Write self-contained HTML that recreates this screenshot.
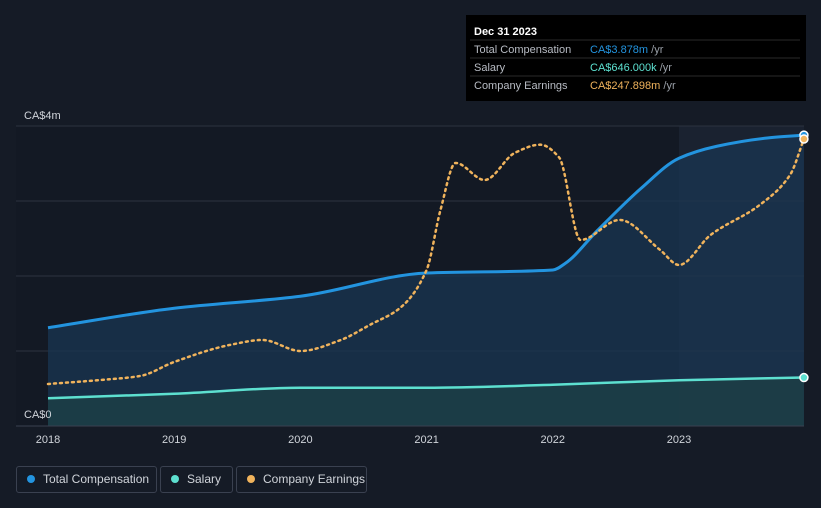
<!DOCTYPE html>
<html><head><meta charset="utf-8">
<style>
body{margin:0;background:#151b26;width:821px;height:508px;overflow:hidden;font-family:"Liberation Sans",sans-serif;}
svg{position:absolute;left:0;top:0}
.leg{position:absolute;top:466px;height:27px;border:1px solid #3a4150;border-radius:3px;color:#d0d4da;font-size:12px;line-height:25px;padding:0 0 0 10px;box-sizing:border-box;white-space:nowrap;overflow:hidden}
.dot{display:inline-block;width:8px;height:8px;border-radius:50%;margin-right:8px;vertical-align:0}
</style></head><body>
<svg id="chart" width="821" height="508"></svg>
<div class="leg" style="left:16px;width:141px"><span class="dot" style="background:#2394df"></span>Total Compensation</div>
<div class="leg" style="left:160px;width:73px"><span class="dot" style="background:#5de0d0"></span>Salary</div>
<div class="leg" style="left:236px;width:131px"><span class="dot" style="background:#f0b35c"></span>Company Earnings</div>
<script>
const compDates=[2018,2019,2020,2021,2022,2022.1,2022.35,2022.7,2023,2023.3,2023.7,2023.99];
const compValues=[1.31,1.57,1.73,2.04,2.08,2.17,2.6,3.17,3.57,3.73,3.84,3.878];
const salDates=[2018,2019,2020,2021,2022,2023,2023.99];
const salValues=[0.37,0.43,0.51,0.51,0.55,0.61,0.646];
const earnDates=[2018,2018.41,2018.73,2019,2019.44,2019.7,2020,2020.32,2020.55,2020.79,2021,2021.11,2021.23,2021.46,2021.7,2021.9,2022.05,2022.22,2022.53,2022.85,2023,2023.25,2023.64,2023.88,2023.99];
const earnValues=[36.3,39.7,43.2,55.3,70,74.3,64.8,74.3,87.3,102,134.8,186.6,227.2,212.5,236,243,232,160.7,178,152.1,139.1,165,191,216.9,247.9];
const yearTicks=[2018,2019,2020,2021,2022,2023];
const yTicks=[0,1,2,3,4];
const NS='http://www.w3.org/2000/svg';
const svg=document.getElementById('chart');
const X=d=>48+(d-2018)*126.2;
const Y=v=>426-v*75;
const EY=v=>426-v*(287/247.9);
function el(t,a,p){const e=document.createElementNS(NS,t);for(const k in a)e.setAttribute(k,a[k]);(p||svg).appendChild(e);return e;}
function path(pts){const n=pts.length,dx=[],m=[],s=[];
for(let i=0;i<n-1;i++){dx[i]=pts[i+1][0]-pts[i][0];s[i]=(pts[i+1][1]-pts[i][1])/dx[i];}
m[0]=s[0];m[n-1]=s[n-2];
for(let i=1;i<n-1;i++){if(s[i-1]*s[i]<=0)m[i]=0;else{const w1=2*dx[i]+dx[i-1],w2=dx[i]+2*dx[i-1];m[i]=(w1+w2)/(w1/s[i-1]+w2/s[i]);}}
let d='M'+pts[0][0]+','+pts[0][1];
for(let i=0;i<n-1;i++){const h=dx[i]/3;d+=' C'+(pts[i][0]+h)+','+(pts[i][1]+m[i]*h)+' '+(pts[i+1][0]-h)+','+(pts[i+1][1]-m[i+1]*h)+' '+pts[i+1][0]+','+pts[i+1][1];}
return d;}
let e;
e=el('rect',{x:16,y:126,width:788,height:300,fill:'#131924'});

e=el('rect',{x:679,y:126,width:125,height:300,fill:'#1a2230'});

yTicks.forEach(v=>{const g=el('line',{x1:16,x2:804,y1:Y(v),y2:Y(v),stroke:'#2c333f','stroke-width':1});});
const cp=compDates.map((d,i)=>[X(d),Y(compValues[i])]);
const sp=salDates.map((d,i)=>[X(d),Y(salValues[i])]);
const ep=earnDates.map((d,i)=>[X(d),EY(earnValues[i])]);
const cd=path(cp),sd=path(sp);
e=el('path',{d:cd+' L'+cp[cp.length-1][0]+',426 L'+cp[0][0]+',426Z',fill:'#1a3652','fill-opacity':0.75});

e=el('path',{d:sd+' L'+sp[sp.length-1][0]+',426 L'+sp[0][0]+',426Z',fill:'#1d4046','fill-opacity':0.8});

e=el('path',{d:cd,fill:'none',stroke:'#2394df','stroke-width':3});

e=el('path',{d:sd,fill:'none',stroke:'#5de0d0','stroke-width':2.5});

e=el('path',{d:path(ep),fill:'none',stroke:'#f0b35c','stroke-width':2.5,'stroke-dasharray':'2 4','stroke-linecap':'round'});

[[cp,'#2394df'],[sp,'#5de0d0'],[ep,'#f0b35c']].forEach(([p,c])=>{const l=p[p.length-1];const m=el('circle',{cx:l[0],cy:l[1],r:4,fill:c,stroke:'#fff','stroke-width':1.5});});
e=el('line',{x1:16,x2:804,y1:426,y2:426,stroke:'#3a4150'});

yearTicks.forEach(y=>{const t=el('text',{x:X(y),y:443,fill:'#d0d4da','font-size':11,'text-anchor':'middle'});t.textContent=y;});
e=el('text',{x:24,y:119,fill:'#d0d4da','font-size':11});e.textContent='CA$4m';

e=el('text',{x:24,y:418,fill:'#d0d4da','font-size':11});e.textContent='CA$0';

const tg=el('g',{});
el('rect',{x:466,y:15,width:340,height:86,fill:'#000'},tg);
let t=el('text',{x:474,y:35,fill:'#fff','font-size':11,'font-weight':'bold'},tg);t.textContent='Dec 31 2023';
[['Total Compensation','CA$3.878m','#2394df',53],['Salary','CA$646.000k','#5de0d0',71],['Company Earnings','CA$247.898m','#f0b35c',89]].forEach(([a,b,c,y])=>{
el('line',{x1:470,x2:800,y1:y-13,y2:y-13,stroke:'#2a2a2a'},tg);
let r=el('text',{x:474,y:y,fill:'#b8bcc4','font-size':11},tg);r.textContent=a;
r=el('text',{x:590,y:y,fill:c,'font-size':11},tg);r.innerHTML=b+'<tspan fill="#9aa0a8"> /yr</tspan>';});
</script>
</body></html>
